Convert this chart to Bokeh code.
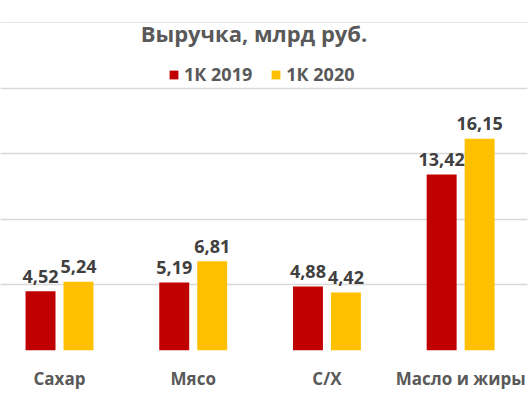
import numpy as np
from bokeh.plotting import figure
from bokeh.models import (ColumnDataSource, FixedTicker, Grid, Legend, LegendItem,
                          Label, Range1d)
from bokeh.transform import dodge
from bokeh.core.properties import value
from bokeh.embed import file_html
from bokeh.resources import INLINE

# Revenue by segment, bln RUB
categories = ["Сахар", "Мясо", "С/Х", "Масло и жиры"]
q1_2019 = [4.52, 5.19, 4.88, 13.42]
q1_2020 = [5.24, 6.81, 4.42, 16.15]
series_names = ["1К 2019", "1К 2020"]
grid_values = [0, 5, 10, 15, 20]

FONT = value("Open Sans")
RED = "#C00000"
GOLD = "#FFC000"

x = np.arange(len(categories)) + 0.5

def fmt(v):
    return f"{v:.2f}".replace(".", ",")

src = ColumnDataSource(dict(
    x=x,
    a=q1_2019,
    b=q1_2020,
    a_lbl=[fmt(v) for v in q1_2019],
    b_lbl=[fmt(v) for v in q1_2020],
))

p = figure(width=532, height=402, output_backend="svg", toolbar_location=None,
           x_range=Range1d(0.0587, 4.0), y_range=Range1d(0, 26.7),
           y_axis_location=None, min_border_left=0, min_border_right=5,
           min_border_top=0, min_border_bottom=52)
p.outline_line_color = None
p.background_fill_color = "white"
p.border_fill_color = "white"
p.xgrid.visible = False

p.add_layout(Grid(dimension=1, ticker=FixedTicker(ticks=grid_values),
                  grid_line_color="#D9D9D9", grid_line_width=1.3))

bw = 0.224
off = 0.142
r1 = p.vbar(x=dodge("x", -off), top="a", width=bw, source=src,
            fill_color=RED, line_color=None)
r2 = p.vbar(x=dodge("x", off), top="b", width=bw, source=src,
            fill_color=GOLD, line_color=None)

for col, lbl, d in (("a", "a_lbl", -off), ("b", "b_lbl", off)):
    p.text(x=dodge("x", d), y=col, text=lbl, source=src,
           text_align="center", text_baseline="alphabetic", y_offset=-15,
           text_font=FONT, text_font_style="bold", text_font_size="18px",
           text_color="#404040")

ax = p.xaxis[0]
ax.ticker = FixedTicker(ticks=list(x))
ax.major_label_overrides = {float(xi): c for xi, c in zip(x, categories)}
ax.axis_line_color = None
ax.major_tick_line_color = None
ax.minor_tick_line_color = None
ax.major_label_text_font = "Open Sans"
ax.major_label_text_font_style = "bold"
ax.major_label_text_font_size = "17px"
ax.major_label_text_color = "#595959"
ax.major_label_standoff = 10

legend = Legend(items=[LegendItem(label=series_names[0], renderers=[r1]),
                       LegendItem(label=series_names[1], renderers=[r2])],
                orientation="horizontal", location=(168, 264),
                glyph_width=11, glyph_height=11, label_standoff=5, spacing=18,
                padding=0, margin=0, border_line_color=None,
                background_fill_alpha=0,
                label_text_font="Open Sans", label_text_font_style="bold",
                label_text_font_size="18px", label_text_color="#595959")
p.add_layout(legend)

p.add_layout(Label(x=253.5, y=318, x_units="screen", y_units="screen",
                   text="Выручка, млрд руб.", text_align="center",
                   text_baseline="alphabetic", text_font="Open Sans",
                   text_font_style="bold", text_font_size="22px",
                   text_color="#595959"))

open("out.html", "w").write(file_html(p, INLINE))
